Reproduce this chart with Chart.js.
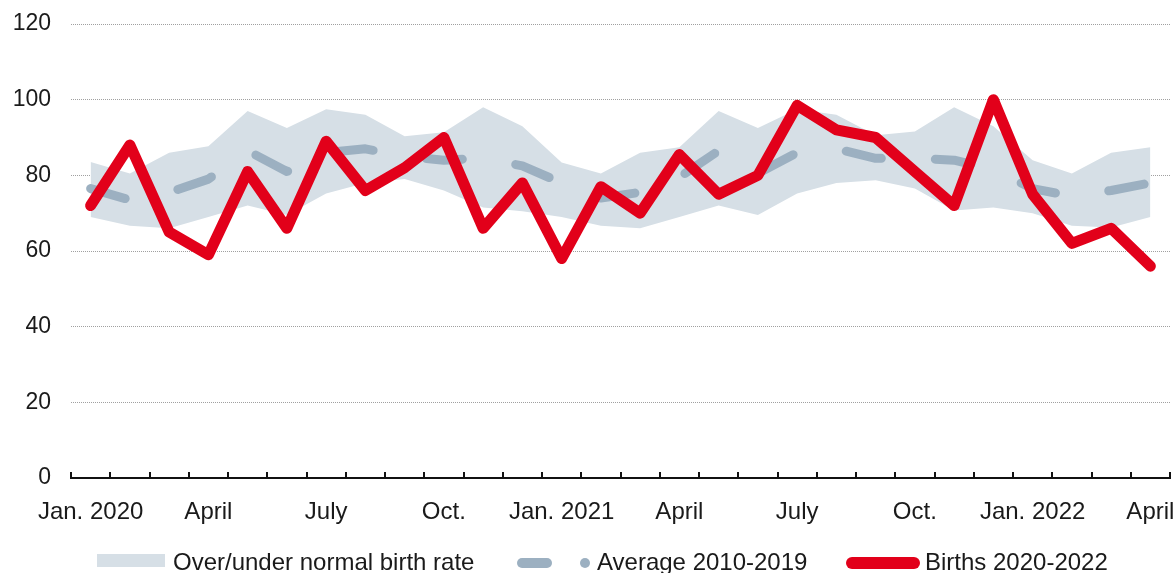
<!DOCTYPE html>
<html>
<head>
<meta charset="utf-8">
<script src="https://cdn.jsdelivr.net/npm/chart.js@4/dist/chart.umd.min.js"></script>
<style>
  html, body { margin: 0; padding: 0; background: #fff; }
  #wrap { position: relative; width: 1176px; height: 573px; overflow: hidden; }
  #c { position: absolute; left: 0; top: 0; }
  .lg { position: absolute; font-family: "Liberation Sans", Arial, sans-serif; font-size: 24px; line-height: 24px; color: #1a1a1a; white-space: nowrap; }
  .sym { position: absolute; }
</style>
</head>
<body>
<div id="wrap">
  <canvas id="c" width="1176" height="573"></canvas>
  <div class="sym" style="left:97px;top:554px;width:68px;height:13px;background:#d6dfe6;"></div>
  <div class="lg" style="left:173px;top:550px;">Over/under normal birth rate</div>
  <div class="sym" style="left:517px;top:558px;width:35px;height:10px;border-radius:5px;background:#9cb0c1;"></div>
  <div class="sym" style="left:580px;top:558px;width:10px;height:10px;border-radius:5px;background:#9cb0c1;"></div>
  <div class="lg" style="left:597px;top:550px;">Average 2010-2019</div>
  <div class="sym" style="left:846px;top:557px;width:74px;height:12px;border-radius:6px;background:#e2001a;"></div>
  <div class="lg" style="left:925px;top:550px;">Births 2020-2022</div>
</div>
<script>
const categories = ['Jan. 2020','Feb. 2020','March 2020','April 2020','May 2020','June 2020','July 2020','Aug. 2020','Sep. 2020','Oct. 2020','Nov. 2020','Dec. 2020',
  'Jan. 2021','Feb. 2021','March 2021','April 2021','May 2021','June 2021','July 2021','Aug. 2021','Sep. 2021','Oct. 2021','Nov. 2021','Dec. 2021',
  'Jan. 2022','Feb. 2022','March 2022','April 2022'];
const tickLabels = ['Jan. 2020','','','April','','','July','','','Oct.','','',
  'Jan. 2021','','','April','','','July','','','Oct.','','',
  'Jan. 2022','','','April'];
const births = [72, 88, 65, 59, 81, 66, 89, 76, 82, 90, 66, 78,
  58, 77, 70, 85.5, 75, 80, 98.5, 92, 90, 81, 72, 100,
  75, 62, 66, 56];
const average = [76.5, 73.5, 75.5, 79, 86.5, 81, 86, 87, 85, 84, 84.5, 82.5,
  78, 74, 75.5, 79.5, 86.5, 80.5, 86, 87, 84.5, 84.5, 84, 81.5,
  76.5, 74.5, 76, 78];
const bandUpper = [83.5, 80.5, 86, 87.7, 97, 92.5, 97.5, 96, 90.3, 91.4, 98, 93,
  83.4, 80.5, 86, 87.4, 97, 92.5, 97.5, 96, 90.6, 91.6, 98, 93,
  84, 80.5, 86, 87.4];
const bandLower = [69, 66.7, 66, 69, 72, 69.5, 75.2, 78, 79, 76, 71.5, 70.5,
  69, 66.7, 66, 69, 72, 69.5, 75.2, 78, 78.7, 76.5, 70.7, 71.5,
  70, 66.7, 66.2, 69];
const yTicks = [0, 20, 40, 60, 80, 100, 120];

const FAMILY = '"Liberation Sans", Arial, sans-serif';

const insideTicks = {
  id: 'insideTicks',
  afterDraw(chart) {
    const x = chart.scales.x, ctx = chart.ctx, b = chart.chartArea.bottom;
    ctx.save();
    ctx.strokeStyle = '#111';
    ctx.lineWidth = 2;
    for (let i = 0; i <= categories.length; i++) {
      const px = Math.round(x.getPixelForValue(i - 0.5));
      ctx.beginPath();
      ctx.moveTo(px, b - 6);
      ctx.lineTo(px, b);
      ctx.stroke();
    }
    ctx.restore();
  }
};

new Chart(document.getElementById('c'), {
  type: 'line',
  data: {
    labels: categories,
    datasets: [
      { label: 'Births 2020-2022', data: births, borderColor: '#e2001a', borderWidth: 11,
        borderJoinStyle: 'round', borderCapStyle: 'round', pointRadius: 0, fill: false, tension: 0 },
      { label: 'Average 2010-2019', data: average, borderColor: '#9cb0c1', borderWidth: 9,
        borderDash: [36, 54], borderCapStyle: 'round', borderJoinStyle: 'round', pointRadius: 0, fill: false, tension: 0 },
      { label: 'Over/under normal birth rate', data: bandUpper, borderWidth: 0, borderColor: 'rgba(0,0,0,0)',
        backgroundColor: '#d6dfe6', pointRadius: 0, fill: '+1', tension: 0 },
      { label: 'lower', data: bandLower, borderWidth: 0, borderColor: 'rgba(0,0,0,0)',
        pointRadius: 0, fill: false, tension: 0 }
    ]
  },
  options: {
    responsive: false,
    animation: false,
    layout: { padding: { top: 24, right: 6, left: 0, bottom: 0 } },
    plugins: { legend: { display: false }, tooltip: { enabled: false } },
    scales: {
      x: {
        type: 'category',
        offset: true,
        grid: { display: true, drawOnChartArea: false, drawTicks: false, offset: true },
        border: { display: true, color: '#111', width: 2 },
        ticks: { autoSkip: false, maxRotation: 0, padding: 20, color: '#1a1a1a', font: { family: FAMILY, size: 24 },
          callback: (v, i) => tickLabels[i] },
        afterFit: s => { s.height = 95; s.paddingLeft = 0; s.paddingRight = 0; }
      },
      y: {
        min: 0, max: 120,
        afterBuildTicks: s => { s.ticks = yTicks.map(v => ({ value: v })); },
        grid: { color: '#a0a0a0', lineWidth: 1, drawTicks: false },
        border: { display: false, dash: [1, 1] },
        ticks: { padding: 20, color: '#1a1a1a', font: { family: FAMILY, size: 23 } },
        afterFit: s => { s.width = 71; s.paddingTop = 0; s.paddingBottom = 0; }
      }
    }
  },
  plugins: [insideTicks]
});
</script>
</body>
</html>
